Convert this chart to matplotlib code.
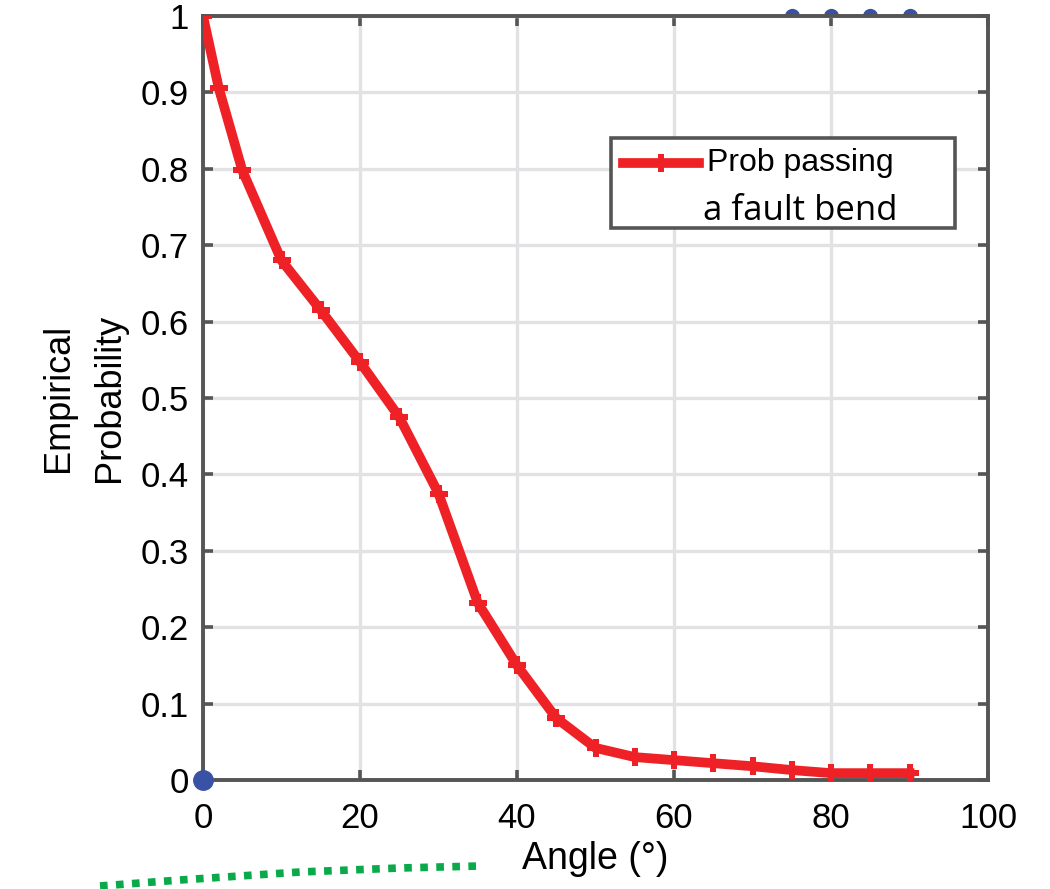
import numpy as np
import matplotlib.pyplot as plt
from matplotlib.lines import Line2D
from matplotlib.patches import Rectangle

# Data
angles = [0, 2, 5, 10, 15, 20, 25, 30, 35, 40, 45, 50, 55, 60, 65, 70, 75, 80, 85, 90]
prob_pass = [1.0, 0.906, 0.798, 0.68, 0.615, 0.547, 0.475, 0.375, 0.232, 0.15,
             0.081, 0.042, 0.030, 0.026, 0.022, 0.018, 0.013, 0.009, 0.009, 0.009]

# partially visible blue series
blue_top_x = [75, 80, 85, 90]
blue_top_y = [1.0, 1.0, 1.0, 1.0]
blue_origin_x = [0]
blue_origin_y = [0]

# green dotted stroke under the axes (figure pixels)
green_px_x = [100, 180, 300, 400, 480]
green_px_y = [886, 880, 872, 868, 866]

x_ticks = [0, 20, 40, 60, 80, 100]
y_ticks = [0, 0.1, 0.2, 0.3, 0.4, 0.5, 0.6, 0.7, 0.8, 0.9, 1]
y_tick_labels = ['0', '0.1', '0.2', '0.3', '0.4', '0.5', '0.6', '0.7', '0.8', '0.9', '1']

plt.rcParams['font.family'] = ['Liberation Sans', 'DejaVu Sans']

W, H = 1050, 889
fig = plt.figure(figsize=(W / 100, H / 100), dpi=100)
ax = fig.add_axes([203 / W, 1 - 780 / H, 785 / W, 764 / H])

red = '#ee2226'
blue = '#3a52a6'
spine_col = '#555555'

ax.grid(True, color='#e2e2e4', linewidth=2.4)
ax.set_axisbelow(True)

ax.plot(blue_top_x, blue_top_y, 'o', color=blue, markersize=11, fillstyle='top',
        markerfacecoloralt='none', markeredgewidth=0, clip_on=False, zorder=2)
ax.plot(blue_origin_x, blue_origin_y, 'o', color=blue, markersize=14, clip_on=False, zorder=4)
ax.plot(angles, prob_pass, color=red, linewidth=7, marker='P', markersize=13,
        markeredgewidth=0, zorder=3)

ax.set_xlim(0, 100)
ax.set_ylim(0, 1)
ax.set_xticks(x_ticks)
ax.set_yticks(y_ticks)
ax.set_yticklabels(y_tick_labels)
ax.tick_params(direction='in', length=7, width=2.6, color=spine_col,
               labelsize=25, top=True, right=True)
ax.tick_params(axis='x', pad=16)
ax.tick_params(axis='y', pad=10)
for s in ax.spines.values():
    s.set_color(spine_col)
    s.set_linewidth(2.8)

ax.set_xlabel('Angle (°)', fontsize=27, labelpad=4)
ax.set_ylabel('Empirical\nProbability', fontsize=26, labelpad=10, linespacing=1.6)

# legend box drawn by hand (second line is in another font)
ax.add_patch(Rectangle((0.52, 0.7225), 0.438, 0.1175, transform=ax.transAxes,
                       facecolor='white', edgecolor=spine_col, linewidth=2.6, zorder=5))
ax.add_line(Line2D([0.535, 0.5835, 0.632], [0.808, 0.808, 0.808], transform=ax.transAxes,
                   color=red, linewidth=7, marker='P', markersize=13, markevery=[1],
                   markeredgewidth=0, zorder=6))
ax.text(0.642, 0.808, 'Prob passing', transform=ax.transAxes, fontsize=23,
        va='center', ha='left', zorder=7)
ax.text(0.637, 0.745, 'a fault bend', transform=ax.transAxes, fontsize=25,
        family=['Open Sans', 'DejaVu Sans'], va='center', ha='left', zorder=7)

fig.add_artist(Line2D(np.array(green_px_x) / W, 1 - np.array(green_px_y) / H,
                      color='#0aaa4a', linewidth=5.5, linestyle=(0, (1, 1.1))))

fig.savefig('out.png', dpi=100)
